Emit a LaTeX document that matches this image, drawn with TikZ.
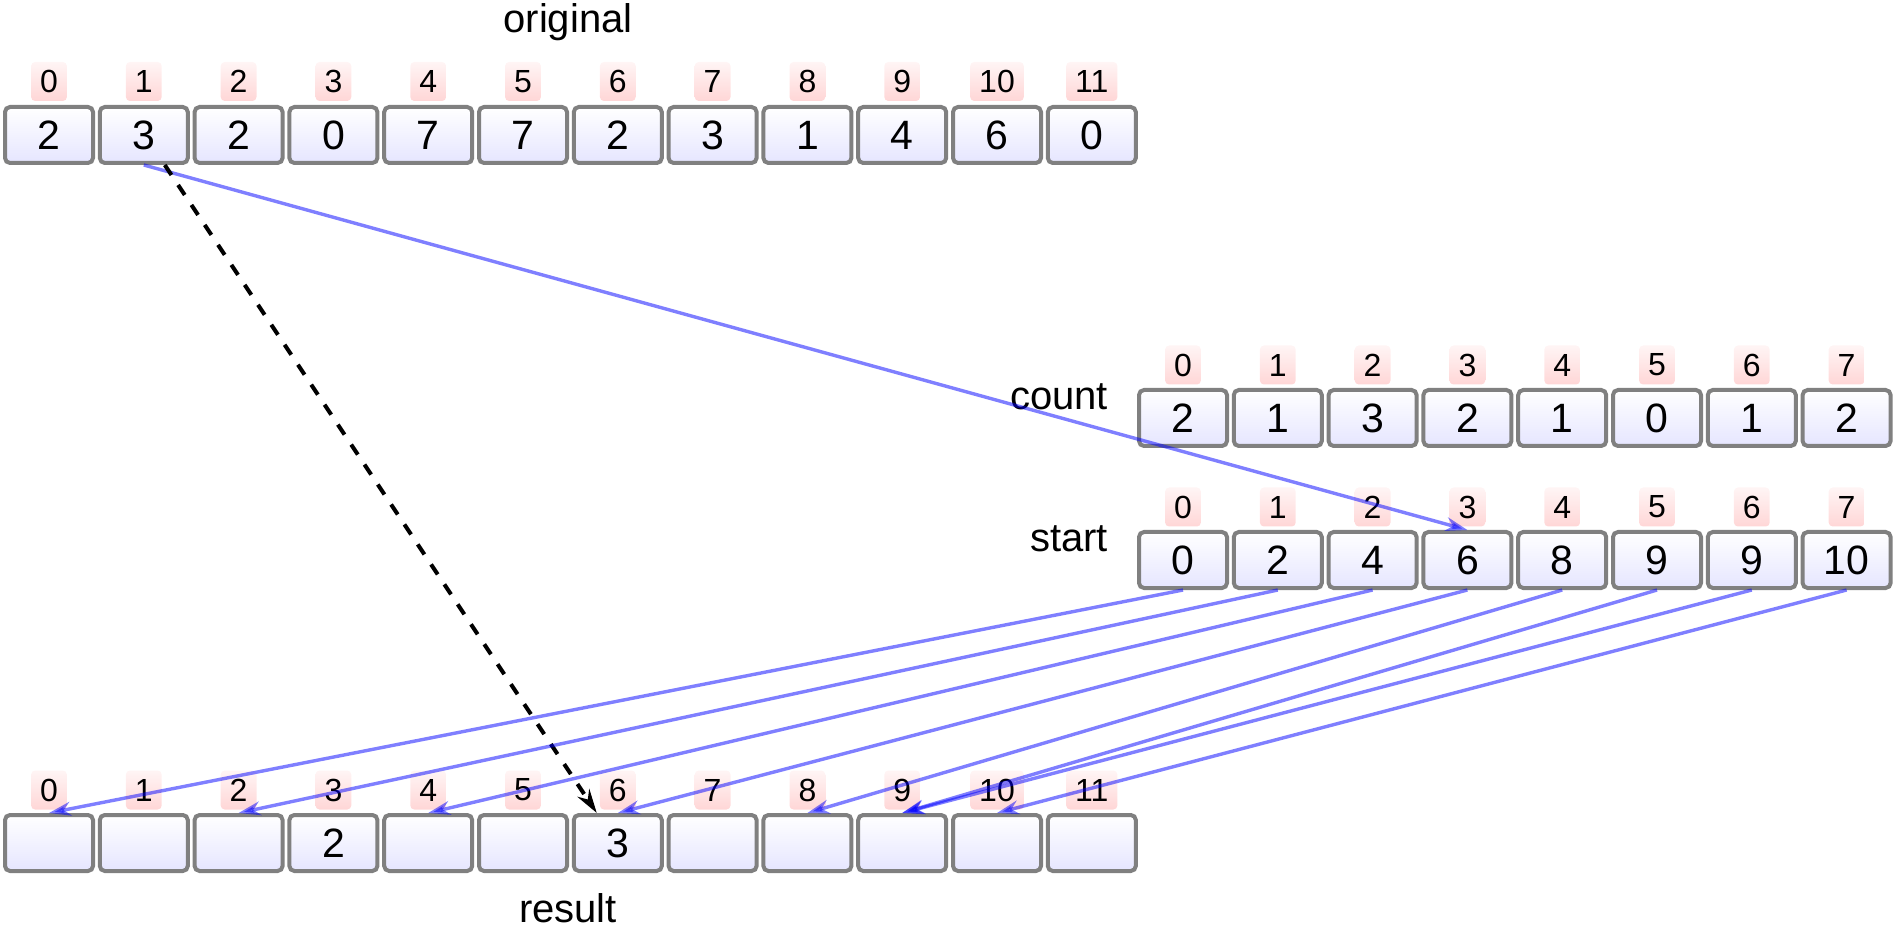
\documentclass[tikz,border=0pt]{standalone}
\usepackage{fontspec}
\setmainfont{Liberation Sans}
\usepackage{tikz}
\usetikzlibrary{arrows.meta}

\tikzset{
  cell/.style = {draw = gray, line width = 2pt, rounded corners = 2.5pt,
    top color = white, bottom color = blue!10, inner sep = 0pt,
    minimum width = 44pt, minimum height = 28pt, font = \fontsize{20.5}{24}\selectfont},
  idx/.style = {rounded corners = 2pt, top color = red!4, bottom color = red!16,
    inner xsep = 4.5pt, inner ysep = 0pt, minimum height = 19.5pt,
    font = \fontsize{16}{18}\selectfont},
  title/.style = {font = \fontsize{20}{24}\selectfont},
  link/.style = {draw = blue, opacity = .5, line width = 1.7pt,
    -{Stealth[length = 11pt, width = 7pt]}},
  pick/.style = {draw = black, line width = 2pt, dash pattern = on 6pt off 6pt,
    -{Stealth[length = 12pt, width = 7pt]}}
}

\begin{document}
\begin{tikzpicture}[x = .5pt, y = -.5pt]
    \useasboundingbox (0,0) rectangle (1896,930);
    % Draw the original array
    \node[title, anchor = base] (origname) at (568,33) {original};
    \foreach \v [count = \i from 0] in {2,3,2,0,7,7,2,3,1,4,6,0} {
      \node[idx] (oi\i) at (49+94.8*\i, 81.5) {\i};
      \node[cell] (o\i) at (49+94.8*\i, 135) {\v};
    }
    % Draw the count array
    \node[title, anchor = base east] (countname) at (1115,410) {count};
    \foreach \v [count = \i from 0] in {2,1,3,2,1,0,1,2} {
      \node[idx] (ci\i) at (1183+94.8*\i, 365) {\i};
      \node[cell] (c\i) at (1183+94.8*\i, 418) {\v};
    }
    % Draw the start array
    \node[title, anchor = base east] (startname) at (1115,552) {start};
    \foreach \v [count = \i from 0] in {0,2,4,6,8,9,9,10} {
      \node[idx] (si\i) at (1183+94.8*\i, 507) {\i};
      \node[cell] (s\i) at (1183+94.8*\i, 560) {\v};
    }
    % Draw the result array
    \node[title, anchor = base] (resname) at (568,922) {result};
    \foreach \v [count = \i from 0] in {{},{},{},2,{},{},3,{},{},{},{},{}} {
      \node[idx] (ri\i) at (49+94.8*\i, 790) {\i};
      \node[cell] (r\i) at (49+94.8*\i, 843) {\v};
    }
    % Draw the arrows
    \draw[link] (o1.south) -- (s3.north);
    \draw[pick] ([xshift = 10.5pt]o1.south) -- ([xshift = -10.5pt]r6.north);
    \foreach \v [count = \i from 0] in {0,2,4,6,8,9,9,10}
      \draw[link] (s\i.south) -- (r\v.north);
\end{tikzpicture}
\end{document}
